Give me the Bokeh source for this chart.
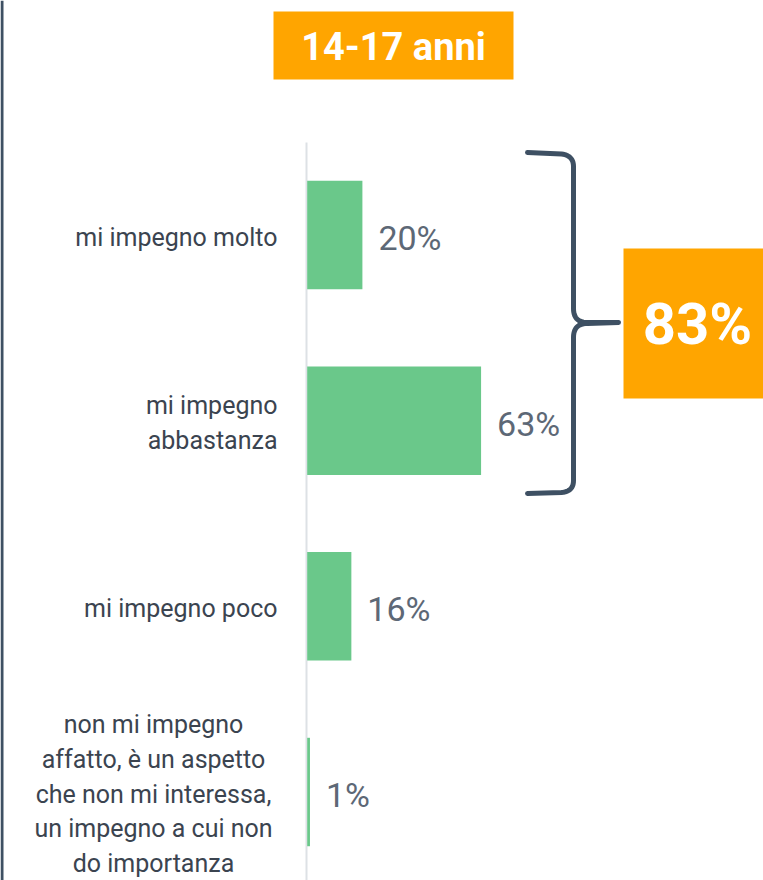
import numpy as np
from bokeh.plotting import figure
from bokeh.models import Range1d, ColumnDataSource
from bokeh.core.properties import value
from bokeh.embed import file_html
from bokeh.resources import INLINE

# ---- data ----
categories = [
    "mi impegno molto",
    "mi impegno\nabbastanza",
    "mi impegno poco",
    "non mi impegno\naffatto, è un aspetto\nche non mi interessa,\nun impegno a cui non\ndo importanza",
]
values = [20, 63, 16, 1]
value_labels = ["20%", "63%", "16%", "1%"]
title_text = "14-17 anni"
total_label = "83%"

# ---- layout helpers (reference pixel -> data) ----
W, H = 763, 880
PX_PER_PCT = 2.76
X0 = 306.7          # px of 0%
ROW = 185.67        # px per category
Y0 = 234.5          # px of first category centre


def dx(px):
    return (px - X0) / PX_PER_PCT


def dy(py):
    return (py - Y0) / ROW


p = figure(
    width=W, height=H,
    x_range=Range1d(dx(0), dx(W)),
    y_range=Range1d(dy(H), dy(0)),
    output_backend="svg", toolbar_location=None,
    x_axis_location=None, y_axis_location=None,
    min_border=0, outline_line_color=None,
    background_fill_color="white", border_fill_color="white",
)
p.grid.visible = False

idx = list(range(len(categories)))
src = ColumnDataSource(dict(y=idx, v=values, lab=value_labels, cat=categories))

DARK = "#3e5063"

# left page edge line
p.quad(left=[dx(0)], right=[dx(3)], top=[dy(0)], bottom=[dy(880)],
       fill_color=DARK, line_color=None)

# baseline (axis) line
p.segment(x0=[dx(306)], x1=[dx(306)], y0=[dy(142)], y1=[dy(885)],
          line_color="#dde1e5", line_width=2)

# bars
p.hbar(y="y", left=0, right="v", height=0.584, source=src,
       fill_color="#6ac88a", line_color=None)

# value labels
p.text(x="v", y="y", text="lab", source=src, x_offset=16, y_offset=3,
       text_align="left", text_baseline="middle",
       text_font=value("Roboto"), text_font_size=value("34px"),
       text_color="#5d6876")

# category labels
LH = 1.2
single = ColumnDataSource(dict(y=idx[:3], cat=categories[:3]))
p.text(x=dx(277), y="y", text="cat", source=single,
       text_align="right", text_baseline="middle",
       text_font=value("Roboto"), text_font_size=value("25px"),
       text_line_height=LH, text_color="#3b4450", y_offset=2)
multi = ColumnDataSource(dict(y=idx[3:], cat=categories[3:]))
p.text(x=dx(153), y="y", text="cat", source=multi,
       text_align="center", text_baseline="middle",
       text_font=value("Roboto"), text_font_size=value("25px"),
       text_line_height=LH, text_color="#3b4450", y_offset=2)

# title box
p.quad(left=[dx(273)], right=[dx(513)], top=[dy(11)], bottom=[dy(79)],
       fill_color="#ffa500", line_color=None)
p.text(x=[dx(393)], y=[dy(46)], text=[title_text],
       text_align="center", text_baseline="middle",
       text_font=value("Roboto"), text_font_style="bold",
       text_font_size=value("38px"), text_color="white")

# brace
def quad_bez(p0, c, p1, n=14):
    t = np.linspace(0, 1, n)
    x = (1 - t) ** 2 * p0[0] + 2 * (1 - t) * t * c[0] + t ** 2 * p1[0]
    y = (1 - t) ** 2 * p0[1] + 2 * (1 - t) * t * c[1] + t ** 2 * p1[1]
    return list(x), list(y)

bx, by = [527, 561], [152, 153.5]
qx, qy = quad_bez((561, 153.5), (573, 155), (573, 166)); bx += qx; by += qy
bx.append(573); by.append(308)
qx, qy = quad_bez((573, 308), (573, 322), (587, 322)); bx += qx; by += qy
bx += [618, 587]; by += [322, 323]
qx, qy = quad_bez((587, 323), (573, 323), (573, 337)); bx += qx; by += qy
bx.append(573); by.append(480)
qx, qy = quad_bez((573, 480), (573, 491), (561, 492)); bx += qx; by += qy
bx.append(527); by.append(493)
p.line(x=[dx(v) for v in bx], y=[dy(v) for v in by], line_color=DARK,
       line_width=5, line_cap="round", line_join="round")

# total box
p.quad(left=[dx(623)], right=[dx(770)], top=[dy(248)], bottom=[dy(398)],
       fill_color="#ffa500", line_color=None)
p.text(x=[dx(697)], y=[dy(323)], text=[total_label],
       text_align="center", text_baseline="middle",
       text_font=value("Roboto"), text_font_style="bold",
       text_font_size=value("58px"), text_color="white")

open("out.html", "w").write(file_html(p, INLINE))
